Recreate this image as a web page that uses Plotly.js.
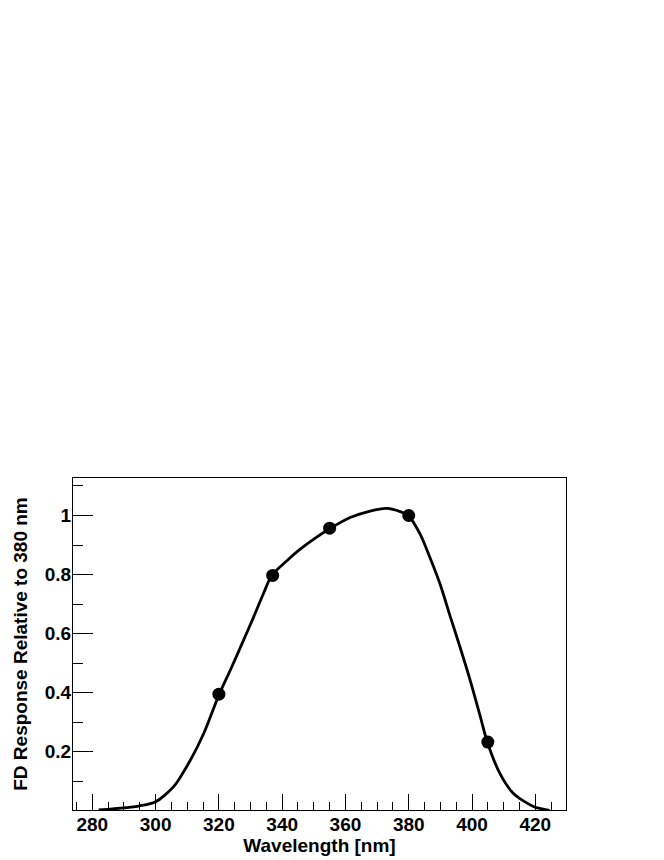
<!DOCTYPE html>
<html>
<head>
<meta charset="utf-8">
<script src="https://cdn.plot.ly/plotly-3.0.1.min.js"></script>
<style>html,body{margin:0;padding:0;background:#fff;}</style>
</head>
<body>
<div id="chart" style="width:664px;height:860px;"></div>
<script>
// Measured points
var pointWavelength = [320, 337, 355, 380, 405];
var pointResponse = [0.395, 0.797, 0.957, 1.0, 0.233];

var curveWavelength = [282, 290, 295, 300, 305.7, 311, 315.2, 320, 323.6, 327.8, 331, 334.1, 336.7, 341.5, 345.7, 350, 355, 361.5, 367.8, 373, 377.3, 380, 383.6, 386.7, 389.9, 393, 396.2, 399.4, 402.5, 404.8, 408.8, 413, 419.4, 424.5];
var curveResponse = [0.003, 0.01, 0.017, 0.031, 0.082, 0.172, 0.262, 0.392, 0.476, 0.578, 0.657, 0.736, 0.797, 0.847, 0.886, 0.92, 0.955, 0.993, 1.015, 1.024, 1.013, 0.998, 0.937, 0.858, 0.768, 0.662, 0.555, 0.443, 0.324, 0.234, 0.127, 0.06, 0.015, 0.002];

var font = {family: 'Liberation Sans, Arial, Helvetica, sans-serif', size: 19, color: '#000', weight: 'bold'};

var traces = [
  {x: curveWavelength, y: curveResponse, mode: 'lines', type: 'scatter',
   line: {color: '#000', width: 2.8, shape: 'spline', smoothing: 0.8}, hoverinfo: 'skip'},
  {x: pointWavelength, y: pointResponse, mode: 'markers', type: 'scatter',
   marker: {color: '#000', size: 13, symbol: 'circle'}}
];

var layout = {
  width: 664, height: 860,
  margin: {l: 73, r: 98, t: 478, b: 50},
  paper_bgcolor: '#fff', plot_bgcolor: '#fff',
  showlegend: false,
  font: font,
  xaxis: {
    range: [273.9, 429.7], showgrid: false, zeroline: false,
    showline: true, linecolor: '#000', linewidth: 1, mirror: true,
    ticks: 'inside', ticklen: 16, tickwidth: 1, tickcolor: '#000',
    dtick: 20, tick0: 280, tickfont: font, ticklabelstandoff: -3,
    minor: {dtick: 5, tick0: 280, ticks: 'inside', ticklen: 8, tickwidth: 1, tickcolor: '#000', showgrid: false},
    title: {text: 'Wavelength [nm]', font: font, standoff: 0}
  },
  yaxis: {
    range: [0.003, 1.127], showgrid: false, zeroline: false,
    showline: true, linecolor: '#000', linewidth: 1, mirror: true,
    ticks: 'inside', ticklen: 20, tickwidth: 1, tickcolor: '#000',
    tickfont: font, ticklabelstandoff: -3,
    tickvals: [0.2, 0.4, 0.6, 0.8, 1], ticktext: ['0.2', '0.4', '0.6', '0.8', '1'],
    minor: {dtick: 0.1, tick0: 0, ticks: 'inside', ticklen: 10, tickwidth: 1, tickcolor: '#000', showgrid: false},
    title: {text: 'FD Response Relative to 380 nm', font: font, standoff: 12}
  }
};

Plotly.newPlot('chart', traces, layout, {displayModeBar: false, staticPlot: true});
</script>
</body>
</html>
